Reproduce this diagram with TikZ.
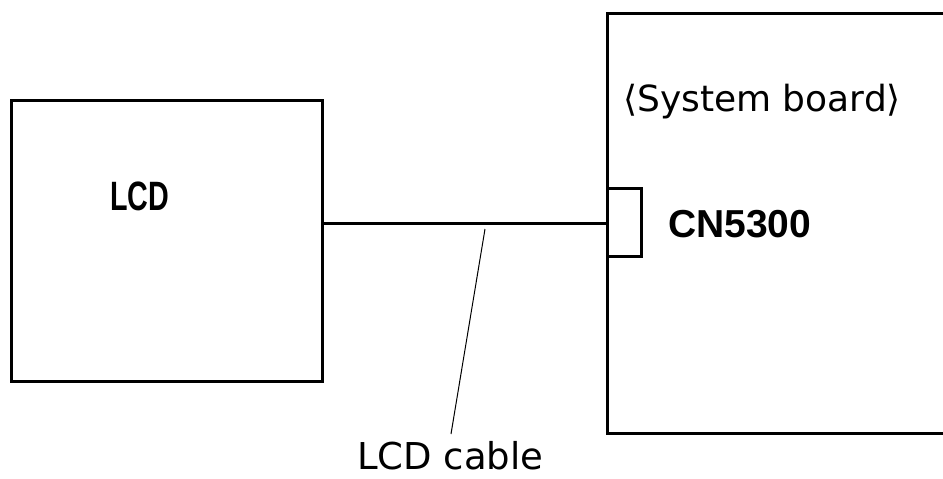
\documentclass[tikz,border=0pt]{standalone}
\usepackage{fontspec}
\usepackage{graphicx}
\setmainfont{Liberation Sans}
\newfontfamily\dvfont{DejaVu Sans}
\begin{document}
\begin{tikzpicture}[x=1pt,y=-1pt,
  wire/.style={draw=black,line width=3pt},
  leader/.style={draw=black,line width=1pt}]
\useasboundingbox[fill=white] (0,0) rectangle (943,479);
% LCD box
\node[draw=black,line width=3pt,minimum width=311pt,minimum height=280.5pt,inner sep=0pt,anchor=north west] (lcd) at (10,99) {};
% System board (extends past right edge)
\draw[wire] (950,13) -- (607.5,13) -- (607.5,433) -- (950,433);
% connector
\node[draw=black,line width=3pt,minimum width=34pt,minimum height=68pt,inner sep=0pt,anchor=north west,fill=white] (cn) at (606,187) {};
% cable
\draw[wire] (lcd.east |- 0,223.5) coordinate (ca) -- (cn.west |- 0,223.5);
% texts
\node[inner sep=0pt,anchor=base west] (lcdt) at (110,210) {\scalebox{0.7}[1]{\fontsize{41}{42}\selectfont\bfseries LCD}};
\node[inner sep=0pt,anchor=base west] (sbt) at (623,111) {\dvfont\fontsize{36}{38}\selectfont ⟨System board⟩};
\node[inner sep=0pt,anchor=base west] (cnt) at (668,237) {\fontsize{39}{41}\selectfont\bfseries CN5300};
\node[inner sep=0pt,anchor=base west] (cblt) at (357,469) {\dvfont\fontsize{37}{40}\selectfont LCD cable};
% leader
\coordinate (lt) at (485,229);
\coordinate (lb) at (451,434);
\draw[leader] (lt) -- (lb);
\end{tikzpicture}
\end{document}
